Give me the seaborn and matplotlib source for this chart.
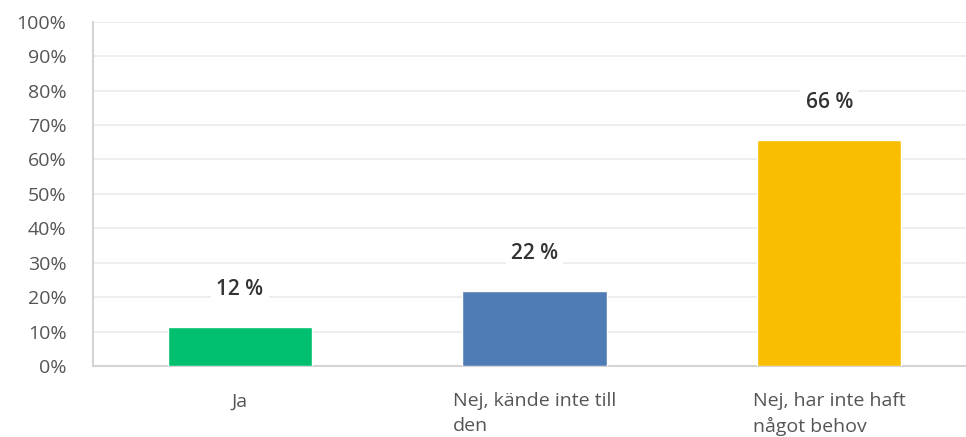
import matplotlib
matplotlib.use("Agg")
import matplotlib.pyplot as plt
import seaborn as sns
import pandas as pd

categories = ["Ja", "Nej, kände inte till\nden", "Nej, har inte haft\nnågot behov"]
values = [11.4, 21.8, 65.5]
value_labels = ["12 %", "22 %", "66 %"]
colors = ["#00BF6F", "#507CB6", "#F9BE00"]
yticks = list(range(0, 101, 10))

sns.set_theme(style="white")
plt.rcParams["font.family"] = ["Open Sans", "DejaVu Sans"]

df = pd.DataFrame({"cat": categories, "val": values})

fig = plt.figure(figsize=(9.66, 4.37), dpi=100)
ax = fig.add_axes([0.096, 0.1625, 0.915, 0.788])

sns.barplot(data=df, x="cat", y="val", hue="cat", palette=colors, width=0.49,
            legend=False, ax=ax, saturation=1, zorder=3)

ax.set_ylim(0, 100)
ax.set_xlim(-0.5, 2.5)
ax.set_yticks(yticks)
ax.set_yticklabels([f"{t}%" for t in yticks])
ax.yaxis.grid(True, color="#ebebeb", linewidth=1.2, zorder=0)
ax.set_axisbelow(True)
ax.set_xlabel("")
ax.set_ylabel("")
for s in ["top", "right"]:
    ax.spines[s].set_visible(False)
ax.spines["left"].set_color("#d4d4d4")
ax.spines["left"].set_linewidth(1.5)
ax.spines["bottom"].set_color("#d4d4d4")
ax.spines["bottom"].set_linewidth(1.5)

ax.tick_params(axis="y", length=0, pad=19, labelsize=14, labelcolor="#555555")
ax.tick_params(axis="x", length=0, pad=19, labelsize=14, labelcolor="#555555")
ax.set_xticks(range(len(categories)))
ax.set_xticklabels(categories, linespacing=1.45)
for lbl in ax.get_xticklabels():
    lbl.set_multialignment("left")
    lbl.set_verticalalignment("top")

for i, (v, t) in enumerate(zip(values, value_labels)):
    ax.annotate(t, (i, v), xytext=(0, 27), textcoords="offset points",
                ha="center", va="center", fontsize=15, fontweight="semibold",
                color="#333333", zorder=5,
                bbox=dict(boxstyle="square,pad=0.25", fc="white", ec="none"))

fig.savefig("out.png", dpi=100)
